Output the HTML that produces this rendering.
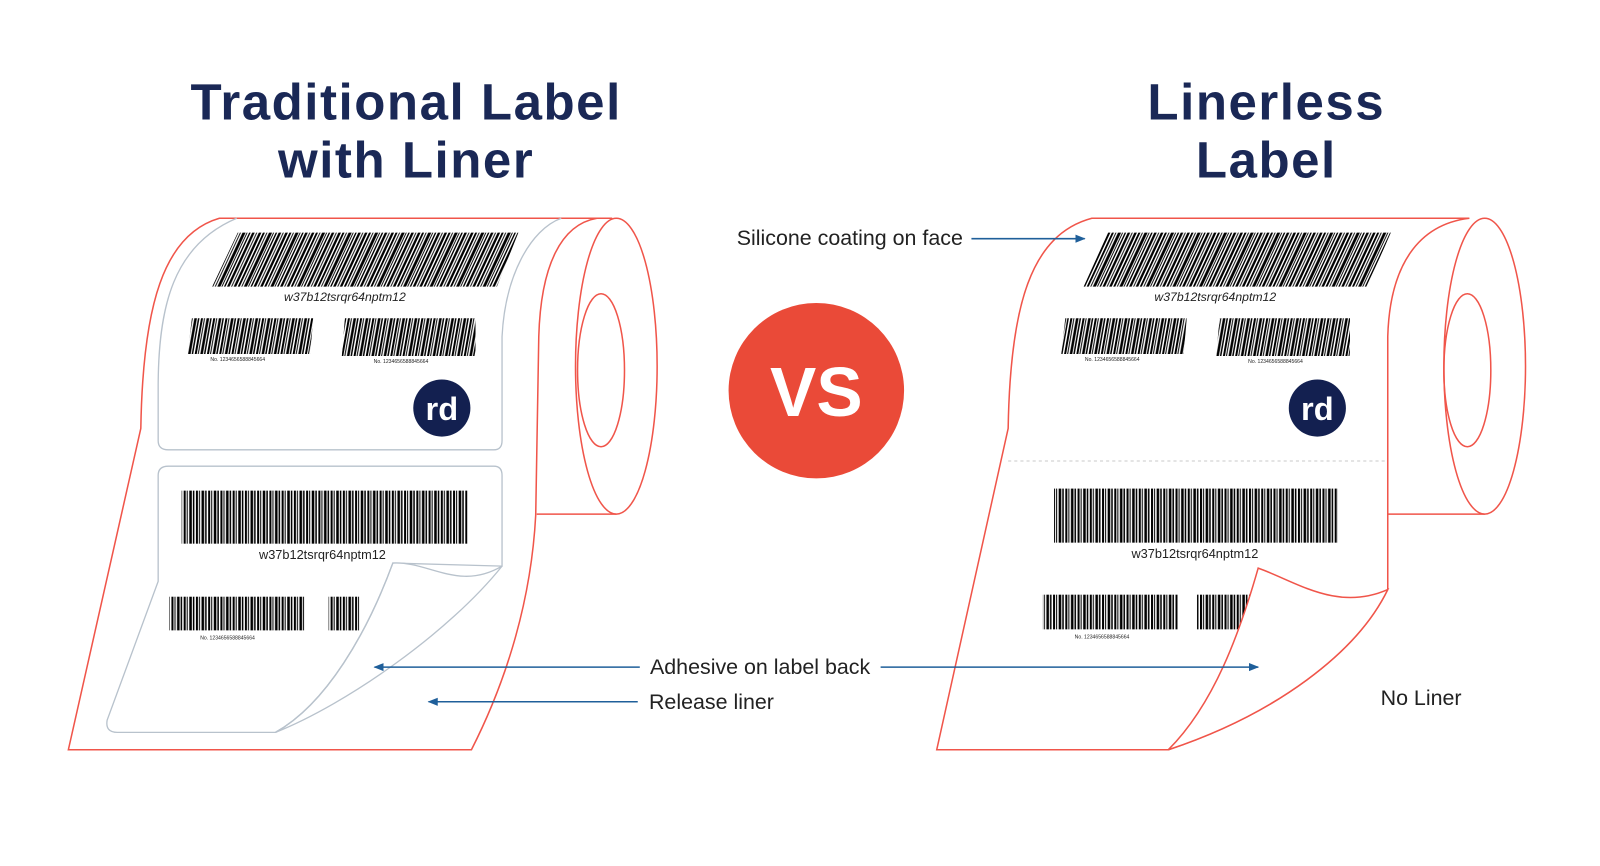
<!DOCTYPE html>
<html><head><meta charset="utf-8"><style>
html,body{margin:0;padding:0;background:#fff;}
svg{display:block;}
text{font-family:"Liberation Sans",sans-serif;}
</style></head><body>
<svg width="1600" height="866" viewBox="0 0 1568 849" preserveAspectRatio="none" xmlns="http://www.w3.org/2000/svg">
<defs>
<pattern id="bc" patternUnits="userSpaceOnUse" width="26" height="200">
<rect x="0" y="0" width="2" height="200" fill="#000"/>
<rect x="3.5" y="0" width="1" height="200" fill="#000"/>
<rect x="6" y="0" width="3" height="200" fill="#000"/>
<rect x="10" y="0" width="1" height="200" fill="#000"/>
<rect x="12.5" y="0" width="1.5" height="200" fill="#000"/>
<rect x="15.5" y="0" width="2.5" height="200" fill="#000"/>
<rect x="19.5" y="0" width="1" height="200" fill="#000"/>
<rect x="22" y="0" width="2.5" height="200" fill="#000"/>
</pattern>
<pattern id="bcs" patternUnits="userSpaceOnUse" width="26" height="200" patternTransform="skewX(-25)">
<rect x="0" y="0" width="2" height="200" fill="#000"/>
<rect x="3.5" y="0" width="1" height="200" fill="#000"/>
<rect x="6" y="0" width="3" height="200" fill="#000"/>
<rect x="10" y="0" width="1" height="200" fill="#000"/>
<rect x="12.5" y="0" width="1.5" height="200" fill="#000"/>
<rect x="15.5" y="0" width="2.5" height="200" fill="#000"/>
<rect x="19.5" y="0" width="1" height="200" fill="#000"/>
<rect x="22" y="0" width="2.5" height="200" fill="#000"/>
</pattern>
<pattern id="bcm" patternUnits="userSpaceOnUse" width="12" height="200" patternTransform="skewX(-10)">
<rect x="0" y="0" width="2" height="200" fill="#000"/>
<rect x="3" y="0" width="1" height="200" fill="#000"/>
<rect x="5.5" y="0" width="2.5" height="200" fill="#000"/>
<rect x="9" y="0" width="1.5" height="200" fill="#000"/>
</pattern>
<pattern id="bcv" patternUnits="userSpaceOnUse" width="12" height="200">
<rect x="0" y="0" width="2" height="200" fill="#000"/>
<rect x="3" y="0" width="1" height="200" fill="#000"/>
<rect x="5.5" y="0" width="2.5" height="200" fill="#000"/>
<rect x="9" y="0" width="1.5" height="200" fill="#000"/>
</pattern>
<marker id="ah" markerWidth="10" markerHeight="10" refX="9" refY="5" orient="auto" markerUnits="userSpaceOnUse">
<path d="M0,1 L10,5 L0,9 z" fill="#1f5f9a"/>
</marker>
</defs>

<!-- Titles -->
<g fill="#1a2856" font-weight="bold" font-size="50" letter-spacing="1.5" text-anchor="middle">
<text x="398" y="117">Traditional Label</text>
<text x="398" y="174">with Liner</text>
<text x="1241" y="117">Linerless</text>
<text x="1241" y="174">Label</text>
</g>

<!-- LEFT ROLL -->
<g fill="none" stroke="#f0554a" stroke-width="1.5">
<path d="M215,214 C160,230 140,300 138,420 L67,735 L462,735 C490,680 520,600 525,505 L528,330 C530,260 550,220 585,214 Z" fill="#fff"/>
<line x1="215" y1="214" x2="600" y2="214"/>
<ellipse cx="604" cy="359" rx="40" ry="145" fill="#fff"/>
<ellipse cx="589" cy="363" rx="23" ry="75"/>
<line x1="526" y1="504" x2="604" y2="504"/>
</g>
<g fill="none" stroke="#b8c2cc" stroke-width="1.3">
<path d="M232,214 C170,240 155,300 155,380 L155,432 Q155,441 165,441 L484,441 Q492,441 492,432 L492,330 C495,270 520,225 550,214"/>
<path d="M165,457 L484,457 Q492,457 492,466 L492,555 L385,552 C360,620 320,690 270,718 L115,718 Q103,718 105,706 L155,570 L155,466 Q155,457 165,457 Z"/>
</g>
<polygon points="233,228 508,228 487,281 208,281" fill="url(#bcs)"/>
<text x="338" y="295" font-size="12" font-style="italic" text-anchor="middle" fill="#222">w37b12tsrqr64nptm12</text>
<polygon points="188,312 307,312 304,347 184,347" fill="url(#bcm)"/>
<polygon points="338,312 466,312 466,349 335,349" fill="url(#bcm)"/>
<text x="233" y="354" font-size="5" text-anchor="middle" fill="#222">No. 1234656588845664</text>
<text x="393" y="356" font-size="5" text-anchor="middle" fill="#222">No. 1234656588845664</text>
<circle cx="433" cy="400" r="28" fill="#132050"/>
<text x="433" y="412" font-size="32" font-weight="bold" text-anchor="middle" fill="#fff">rd</text>
<rect x="178" y="481" width="280" height="52" fill="url(#bcv)"/>
<text x="316" y="548" font-size="12.5" text-anchor="middle" fill="#222">w37b12tsrqr64nptm12</text>
<rect x="166" y="585" width="132" height="33" fill="url(#bcv)"/>
<rect x="322" y="585" width="30" height="33" fill="url(#bcv)"/>
<text x="223" y="627" font-size="5" text-anchor="middle" fill="#222">No. 1234656588845664</text>
<path d="M385,552 C420,550 450,580 492,555 C440,620 340,690 270,718 C320,690 360,620 385,552 Z" fill="#fff" stroke="#b8c2cc" stroke-width="1.3"/>
<path d="M385,552 C360,620 320,690 270,718" fill="none" stroke="#b8c2cc" stroke-width="1.3"/>

<!-- VS -->
<circle cx="800" cy="383" r="86" fill="#ea4a38"/>
<text x="800" y="408" font-size="68" font-weight="bold" text-anchor="middle" fill="#fff">VS</text>

<!-- RIGHT ROLL -->
<g fill="none" stroke="#f0554a" stroke-width="1.5">
<path d="M1070,214 C1010,230 990,300 988,420 L918,735 L1145,735 C1250,700 1330,640 1360,578 L1360,330 C1362,260 1390,220 1440,214 Z" fill="#fff"/>
<ellipse cx="1455" cy="359" rx="40" ry="145" fill="#fff"/>
<ellipse cx="1438" cy="363" rx="23" ry="75"/>
<line x1="1360" y1="504" x2="1455" y2="504"/>
</g>
<line x1="988" y1="452" x2="1360" y2="452" stroke="#c8c8c8" stroke-width="1" stroke-dasharray="3,3"/>
<polygon points="1086,228 1363,228 1340,281 1062,281" fill="url(#bcs)"/>
<text x="1191" y="295" font-size="12" font-style="italic" text-anchor="middle" fill="#222">w37b12tsrqr64nptm12</text>
<polygon points="1044,312 1163,312 1160,347 1040,347" fill="url(#bcm)"/>
<polygon points="1195,312 1323,312 1323,349 1192,349" fill="url(#bcm)"/>
<text x="1090" y="354" font-size="5" text-anchor="middle" fill="#222">No. 1234656588845664</text>
<text x="1250" y="356" font-size="5" text-anchor="middle" fill="#222">No. 1234656588845664</text>
<circle cx="1291" cy="400" r="28" fill="#132050"/>
<text x="1291" y="412" font-size="32" font-weight="bold" text-anchor="middle" fill="#fff">rd</text>
<rect x="1033" y="479" width="278" height="53" fill="url(#bcv)"/>
<text x="1171" y="547" font-size="12.5" text-anchor="middle" fill="#222">w37b12tsrqr64nptm12</text>
<rect x="1022" y="583" width="132" height="34" fill="url(#bcv)"/>
<rect x="1173" y="583" width="60" height="34" fill="url(#bcv)"/>
<text x="1080" y="626" font-size="5" text-anchor="middle" fill="#222">No. 1234656588845664</text>
<path d="M1233,557 C1270,570 1310,600 1360,578 C1330,640 1250,700 1145,735 C1190,690 1215,620 1233,557 Z" fill="#fff" stroke="#f0554a" stroke-width="1.5"/>

<!-- annotations -->
<g font-size="21" fill="#222">
<text x="722" y="240">Silicone coating on face</text>
<text x="637" y="661">Adhesive on label back</text>
<text x="636" y="695">Release liner</text>
<text x="1353" y="691">No Liner</text>
</g>
<g stroke="#1f5f9a" stroke-width="1.5" fill="none">
<line x1="952" y1="234" x2="1063" y2="234" marker-end="url(#ah)"/>
<line x1="627" y1="654" x2="367" y2="654" marker-end="url(#ah)"/>
<line x1="863" y1="654" x2="1233" y2="654" marker-end="url(#ah)"/>
<line x1="625" y1="688" x2="420" y2="688" marker-end="url(#ah)"/>
</g>
</svg>
</body></html>
